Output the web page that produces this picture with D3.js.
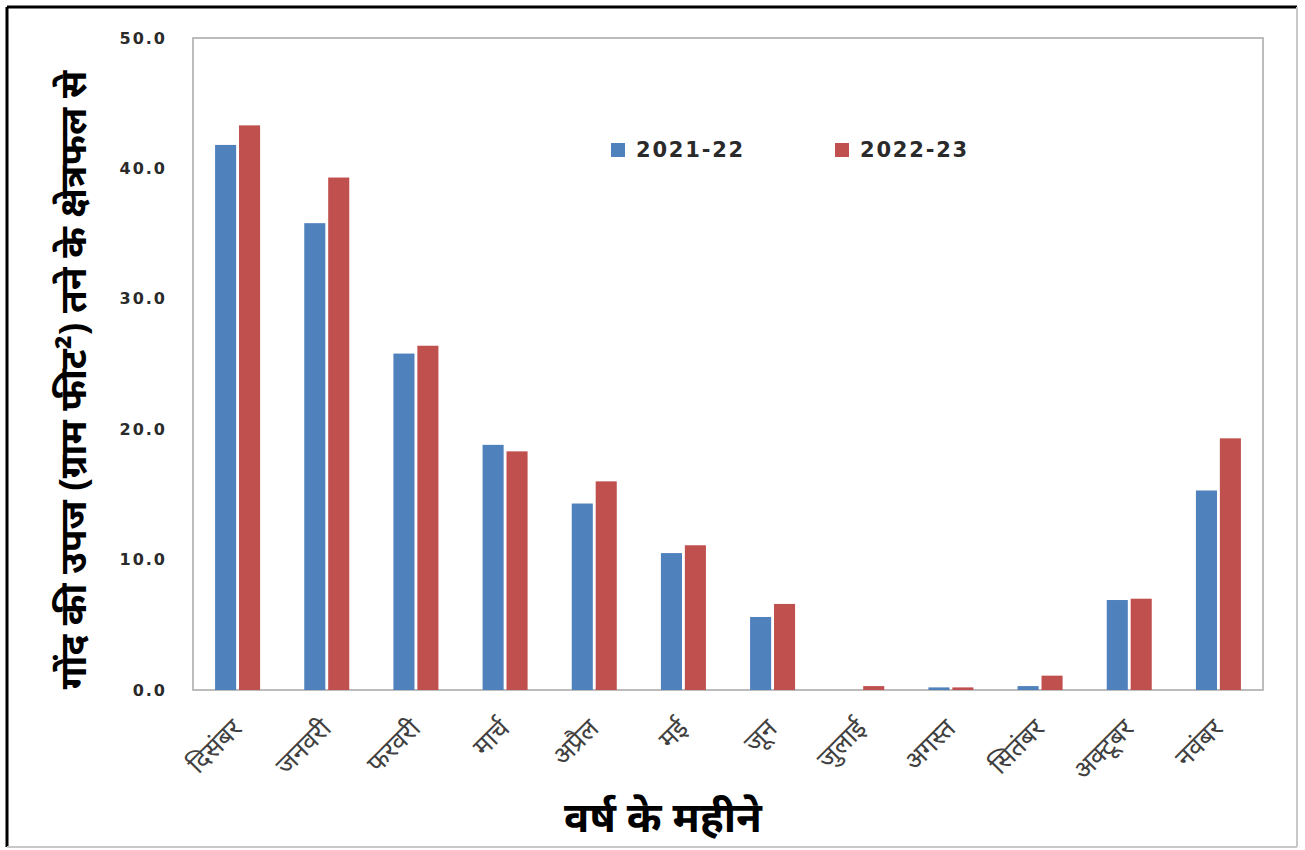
<!DOCTYPE html>
<html>
<head>
<meta charset="utf-8">
<script src="https://cdn.jsdelivr.net/npm/d3@7/dist/d3.min.js"></script>
<style>
  body { margin: 0; background: #fff; }
  svg { display: block; }
</style>
</head>
<body>
<script>
// months, gum yield per stem area for two seasons
var months = ["दिसंबर", "जनवरी", "फरवरी", "मार्च", "अप्रैल", "मई", "जून", "जुलाई", "अगस्त", "सितंबर", "अक्टूबर", "नवंबर"];
var seriesNames = ["2021-22", "2022-23"];
var yield2122 = [41.8, 35.8, 25.8, 18.8, 14.3, 10.5, 5.6, 0.0, 0.2, 0.3, 6.9, 15.3];
var yield2223 = [43.3, 39.3, 26.4, 18.3, 16.0, 11.1, 6.6, 0.3, 0.2, 1.1, 7.0, 19.3];
var yTicks = [0, 10, 20, 30, 40, 50];

var colors = ["#4f81bd", "#c0504d"];

var width = 1305, height = 850;
var plot = { left: 193, right: 1263, top: 38, bottom: 690 };

var svg = d3.select("body").append("svg")
	.attr("width", width)
	.attr("height", height);

// outer frame
svg.append("line").attr("x1", 7).attr("y1", 7).attr("x2", 1297).attr("y2", 7)
	.attr("stroke", "#000").attr("stroke-width", 3);
svg.append("line").attr("x1", 7).attr("y1", 7).attr("x2", 7).attr("y2", 847)
	.attr("stroke", "#000").attr("stroke-width", 3);
svg.append("line").attr("x1", 1297).attr("y1", 7).attr("x2", 1297).attr("y2", 847)
	.attr("stroke", "#c8c8c8").attr("stroke-width", 2);
svg.append("line").attr("x1", 7).attr("y1", 847).attr("x2", 1297).attr("y2", 847)
	.attr("stroke", "#c8c8c8").attr("stroke-width", 2);

var x = d3.scaleBand()
	.domain(months)
	.range([plot.left, plot.right]);

var xInner = d3.scaleBand()
	.domain(seriesNames)
	.range([0, 45])
	.paddingInner(0.12);

var y = d3.scaleLinear()
	.domain([0, 50])
	.range([plot.bottom, plot.top]);

// plot box
svg.append("rect")
	.attr("x", plot.left).attr("y", plot.top)
	.attr("width", plot.right - plot.left)
	.attr("height", plot.bottom - plot.top)
	.attr("fill", "none")
	.attr("stroke", "#a6a6a6")
	.attr("stroke-width", 1.5);

// bars
var rows = months.map(function(m, i) {
	return { month: m, values: [yield2122[i], yield2223[i]] };
});

var groups = svg.append("g").selectAll("g")
	.data(rows)
	.enter().append("g")
	.attr("transform", function(d) {
		return "translate(" + (x(d.month) + x.bandwidth() / 2 - 22.5) + ",0)";
	});

groups.selectAll("rect")
	.data(function(d) { return d.values.map(function(v, k) { return { key: seriesNames[k], v: v, k: k }; }); })
	.enter().append("rect")
	.attr("x", function(d) { return xInner(d.key); })
	.attr("y", function(d) { return y(d.v); })
	.attr("width", xInner.bandwidth())
	.attr("height", function(d) { return plot.bottom - y(d.v); })
	.attr("fill", function(d) { return colors[d.k]; });

// y axis labels
var yAxis = d3.axisLeft(y)
	.tickValues(yTicks)
	.tickSize(0)
	.tickPadding(26)
	.tickFormat(d3.format(".1f"));

var yg = svg.append("g")
	.attr("transform", "translate(" + plot.left + ",0)")
	.call(yAxis);
yg.select(".domain").remove();
yg.selectAll("text")
	.attr("font-family", "'DejaVu Sans', Verdana, sans-serif")
	.attr("font-weight", "bold")
	.attr("font-size", 16)
	.attr("letter-spacing", 2)
	.attr("fill", "#2a2a2a");

// x axis labels, rotated
var xAxis = d3.axisBottom(x).tickSize(0).tickPadding(0);
var xg = svg.append("g")
	.attr("transform", "translate(0," + plot.bottom + ")")
	.call(xAxis);
xg.select(".domain").remove();
xg.selectAll("text")
	.attr("font-family", "'Noto Sans', 'Noto Sans Devanagari', sans-serif")
	.attr("font-size", 26)
	.attr("fill", "#404040")
	.attr("text-anchor", "end")
	.attr("dy", 0)
	.attr("y", 0)
	.attr("transform", "translate(6,40) rotate(-45)");

// legend
var legend = svg.append("g").selectAll("g")
	.data(seriesNames)
	.enter().append("g")
	.attr("transform", function(d, i) { return "translate(" + (611 + i * 224) + ",143)"; });
legend.append("rect")
	.attr("width", 14).attr("height", 14)
	.attr("fill", function(d, i) { return colors[i]; });
legend.append("text")
	.attr("x", 25).attr("y", 14)
	.attr("font-family", "'DejaVu Sans', Verdana, sans-serif")
	.attr("font-weight", "bold")
	.attr("font-size", 21)
	.attr("letter-spacing", 1.8)
	.attr("fill", "#2a2a2a")
	.text(function(d) { return d; });

// axis titles
svg.append("text")
	.attr("x", 663).attr("y", 832)
	.attr("text-anchor", "middle")
	.attr("font-family", "'Noto Sans', 'Noto Sans Devanagari', sans-serif")
	.attr("font-weight", "bold")
	.attr("font-size", 42)
	.attr("fill", "#000")
	.text("वर्ष के महीने");

svg.append("text")
	.attr("transform", "translate(86,380) rotate(-90)")
	.attr("text-anchor", "middle")
	.attr("font-family", "'Noto Sans', 'Noto Sans Devanagari', sans-serif")
	.attr("font-weight", "bold")
	.attr("font-size", 37)
	.attr("fill", "#000")
	.text("गोंद की उपज (ग्राम फीट²) तने के क्षेत्रफल से");
</script>
</body>
</html>
